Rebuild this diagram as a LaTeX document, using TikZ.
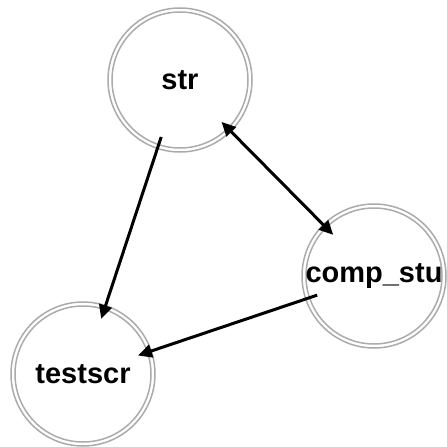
\documentclass[tikz,border=0pt]{standalone}
\usepackage{fontspec}
\setmainfont{Liberation Sans}
\usetikzlibrary{arrows.meta}
\begin{document}
\begin{tikzpicture}[x=1pt,y=-1pt,
  ring/.style={draw=black!33, line width=1.5pt},
  state/.style={circle, minimum size=144pt, inner sep=0pt, ring,
    path picture={\draw[ring] (path picture bounding box.center) circle (68pt);},
    font=\fontsize{29}{33}\selectfont\bfseries},
  tip/.tip={Triangle[length=14pt,width=13pt]},
  edge/.style={line width=3pt, draw=black, -tip, shorten >=58pt, shorten <=60pt}]
\useasboundingbox (0,0) rectangle (447,447);
\node[state] (str) at (180,80) {\makebox[0pt]{str}};
\node[state] (comp) at (374,276) {\makebox[0pt]{comp\_stu}};
\node[state] (testscr) at (83,374) {\makebox[0pt]{testscr}};
\draw[edge] (str.center) -- (testscr.center);
\draw[edge, tip-tip, shorten <=59pt] (str.center) -- (comp.center);
\draw[edge] (comp.center) -- (testscr.center);
\end{tikzpicture}
\end{document}
